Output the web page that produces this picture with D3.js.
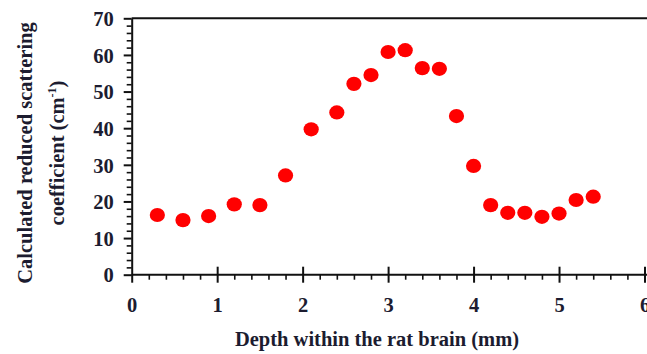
<!DOCTYPE html>
<html>
<head>
<meta charset="utf-8">
<script src="https://cdn.jsdelivr.net/npm/d3@7"></script>
<style>
  body { margin: 0; background: #fff; }
  svg { display: block; }
  .tick text { font-family: "Liberation Serif", "Times New Roman", serif; font-weight: bold; font-size: 20.5px; fill: #1c1c30; }
  .lbl { font-family: "Liberation Serif", "Times New Roman", serif; font-weight: bold; font-size: 20.5px; fill: #1c1c30; }
</style>
</head>
<body>
<div class="graph"></div>
<script>
// depth (mm) and calculated reduced scattering coefficient (cm^-1)
var depth = [0.3, 0.6, 0.9, 1.2, 1.5, 1.8, 2.1, 2.4, 2.6, 2.8, 3.0, 3.2,
             3.4, 3.6, 3.8, 4.0, 4.2, 4.4, 4.6, 4.8, 5.0, 5.2, 5.4];
var scatter = [16.3, 14.9, 16.0, 19.2, 19.0, 27.1, 39.7, 44.3, 52.1, 54.5, 60.8, 61.3,
               56.4, 56.2, 43.3, 29.7, 19.0, 16.9, 16.9, 15.8, 16.7, 20.4, 21.3];
var xTicks = [0, 1, 2, 3, 4, 5, 6];
var yTicks = [0, 10, 20, 30, 40, 50, 60, 70];

var W = 647, H = 354;
var svg = d3.select(".graph").append("svg")
    .attr("width", W)
    .attr("height", H);

var x = d3.scaleLinear().domain([0, 6]).range([131.7, 644.5]);
var y = d3.scaleLinear().domain([0, 70]).range([274.7, 18.3]);

// top frame line
svg.append("line")
    .attr("x1", x(0)).attr("x2", W + 2)
    .attr("y1", y(70)).attr("y2", y(70))
    .attr("stroke", "#111").attr("stroke-width", 2);

// y axis: minor ticks every 2, major every 10
var yMinor = d3.range(0, 71, 2).filter(function(d) { return d % 10 != 0; });
svg.append("g")
    .attr("transform", "translate(" + x(0) + ",0)")
    .call(d3.axisLeft(y).tickValues(yMinor).tickSize(5).tickFormat(""))
    .call(function(g) {
      g.select(".domain").remove();
      g.selectAll("line").attr("stroke", "#111").attr("stroke-width", 1.6);
    });
svg.append("g")
    .attr("transform", "translate(" + x(0) + ",0)")
    .call(d3.axisLeft(y).tickValues(yTicks).tickSize(8).tickSizeOuter(0).tickPadding(10)
      .tickFormat(d3.format("d")))
    .call(function(g) {
      g.select(".domain").attr("stroke", "#111").attr("stroke-width", 2);
      g.selectAll("line").attr("stroke", "#111").attr("stroke-width", 2);
      g.selectAll("text").attr("dy", "0.35em");
    });

// x axis: minor every 0.2 (below), major crossing
var xMinor = d3.range(1, 31).map(function(d) { return d / 5; })
    .filter(function(d) { return Math.abs(d - Math.round(d)) > 1e-6; });
svg.append("g")
    .attr("transform", "translate(0," + y(0) + ")")
    .call(d3.axisBottom(x).tickValues(xMinor).tickSize(5).tickFormat(""))
    .call(function(g) {
      g.select(".domain").remove();
      g.selectAll("line").attr("stroke", "#111").attr("stroke-width", 1.6);
    });
svg.append("g")
    .attr("transform", "translate(0," + y(0) + ")")
    .call(d3.axisBottom(x).tickValues(xTicks).tickSize(8).tickSizeOuter(0).tickPadding(15)
      .tickFormat(d3.format("d")))
    .call(function(g) {
      g.select(".domain").attr("stroke", "#111").attr("stroke-width", 2)
        .attr("d", "M" + x(0) + ",0H" + (W + 2));
      g.selectAll("line").attr("stroke", "#111").attr("stroke-width", 2)
        .attr("y1", function(d) { return d == 0 ? 0 : -8; });
    });

// data points
svg.append("g").selectAll("ellipse")
    .data(depth)
    .enter().append("ellipse")
    .attr("cx", function(d) { return x(d); })
    .attr("cy", function(d, i) { return y(scatter[i]); })
    .attr("rx", 7.6)
    .attr("ry", 7.1)
    .attr("fill", "#ff0000");

// axis titles
svg.append("text")
    .attr("class", "lbl")
    .attr("x", 377).attr("y", 346)
    .attr("text-anchor", "middle")
    .text("Depth within the rat brain (mm)");

var yl = svg.append("text")
    .attr("class", "lbl")
    .attr("transform", "translate(32,153) rotate(-90)")
    .attr("text-anchor", "middle");
yl.append("tspan").attr("x", 0).attr("y", 0).text("Calculated reduced scattering");
var l2 = yl.append("tspan").attr("x", 0).attr("y", 32);
l2.text("coefficient (cm");
yl.append("tspan").attr("dy", -8).attr("font-size", "12px").text("-1");
yl.append("tspan").attr("dy", 8).text(")");
</script>
</body>
</html>
